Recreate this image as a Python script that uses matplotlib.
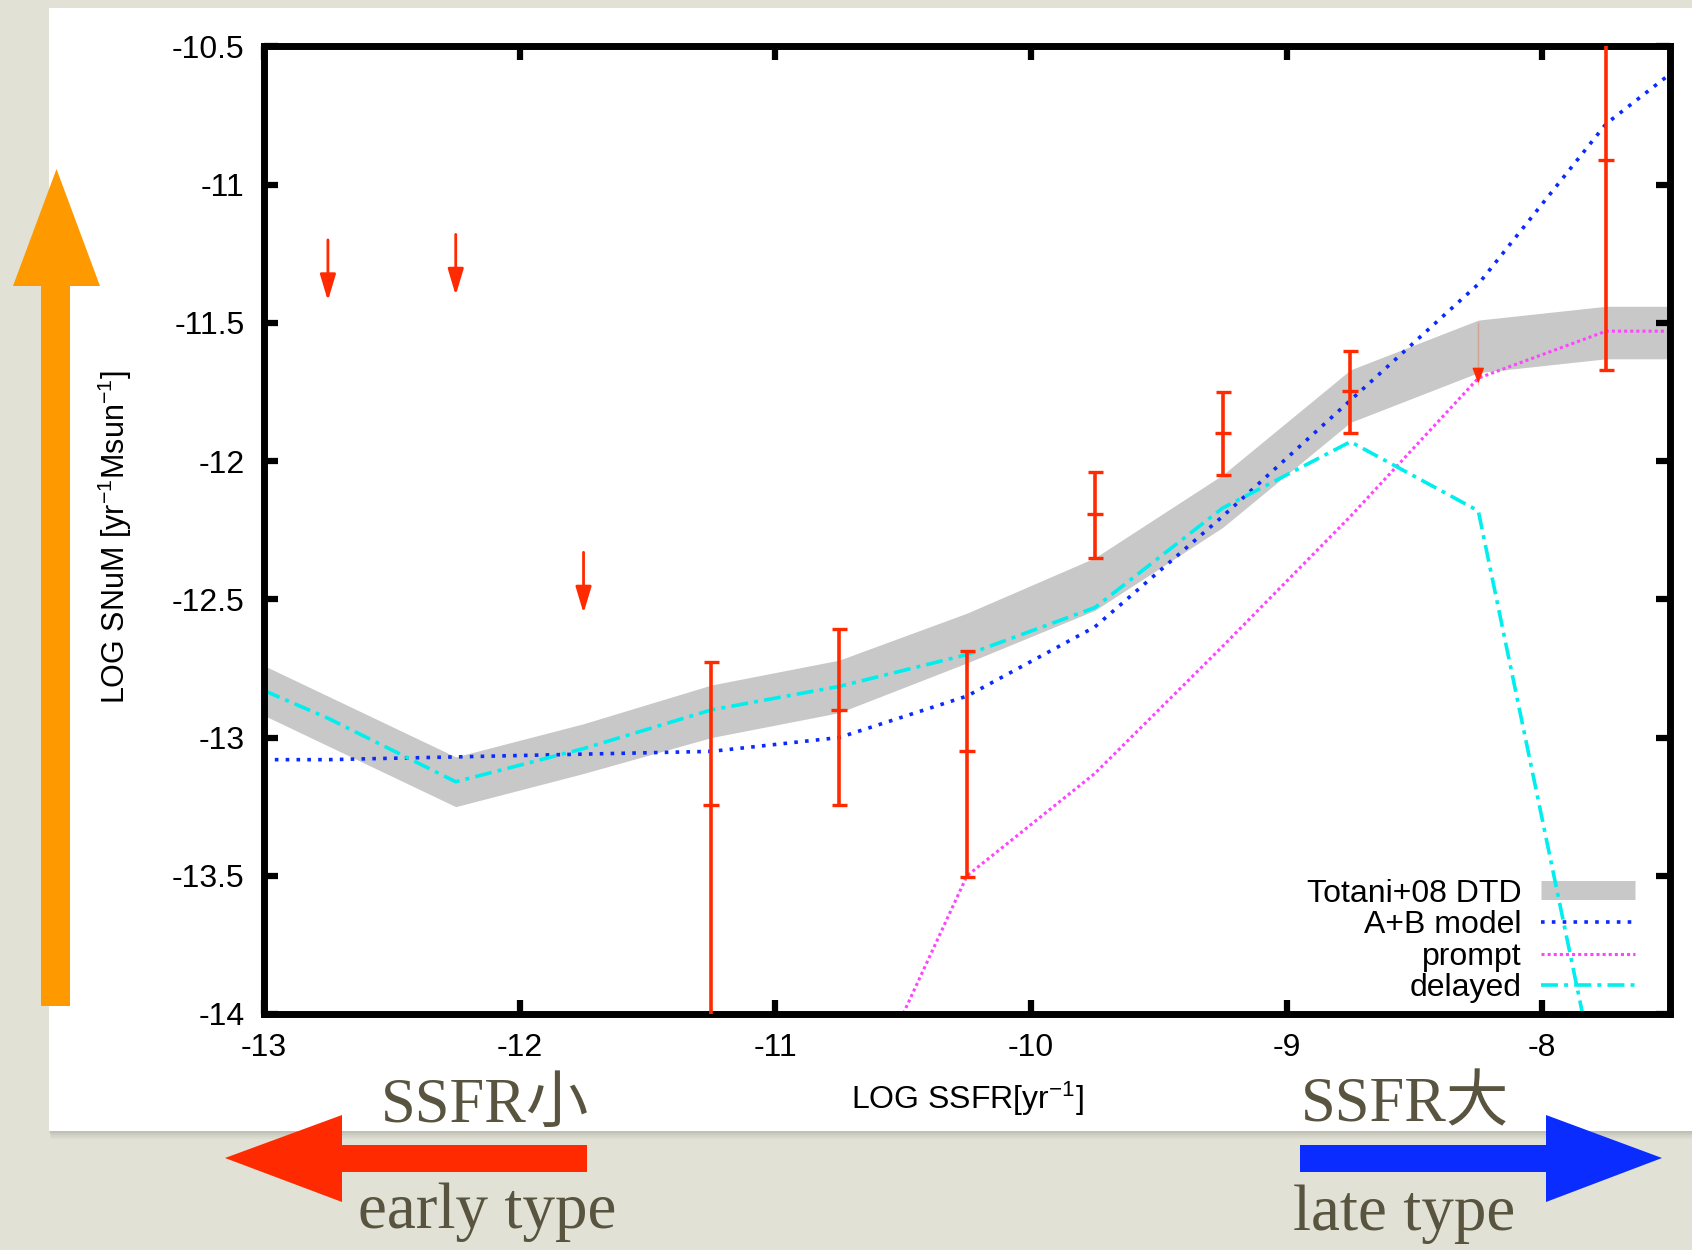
import numpy as np
import matplotlib
matplotlib.use("Agg")
import matplotlib.pyplot as plt
from matplotlib.lines import Line2D
from matplotlib.patches import Rectangle, Polygon

plt.rcParams['font.family'] = ['Liberation Sans', 'DejaVu Sans']
plt.rcParams['axes.unicode_minus'] = False
plt.rcParams['mathtext.fontset'] = 'custom'
plt.rcParams['mathtext.rm'] = 'Liberation Sans'
plt.rcParams['mathtext.it'] = 'Liberation Sans:italic'

# Model curves on the log sSFR grid
ssfr_grid = [-13.0, -12.75, -12.25, -11.75, -11.25, -10.75, -10.25, -9.75, -9.25, -8.75, -8.25, -7.75, -7.5]
totani_upper = [-12.74, -12.85, -13.07, -12.95, -12.81, -12.72, -12.55, -12.35, -12.05, -11.67, -11.49, -11.44, -11.44]
totani_lower = [-12.92, -13.03, -13.25, -13.13, -13.00, -12.91, -12.73, -12.54, -12.24, -11.86, -11.68, -11.63, -11.63]
ab_model = [-13.08, -13.08, -13.07, -13.06, -13.05, -13.00, -12.85, -12.60, -12.20, -11.78, -11.36, -10.78, -10.60]

delayed_x = [-13.0, -12.75, -12.25, -11.75, -11.25, -10.75, -10.25, -9.75, -9.25, -8.75, -8.25, -7.75]
delayed = [-12.83, -12.93, -13.16, -13.04, -12.90, -12.815, -12.70, -12.53, -12.17, -11.93, -12.18, -14.41]

prompt_x = [-10.75, -10.25, -9.75, -9.25, -8.75, -8.25, -7.75, -7.5]
prompt = [-14.5, -13.50, -13.13, -12.67, -12.20, -11.70, -11.53, -11.53]

# Observed rates with error ranges
obs_x = [-11.25, -10.75, -10.25, -9.75, -9.25, -8.75, -7.75]
obs_y = [-13.245, -12.90, -13.05, -12.19, -11.90, -11.745, -10.91]
obs_lo = [-14.3, -13.243, -13.504, -12.35, -12.05, -11.90, -11.67]
obs_hi = [-12.725, -12.607, -12.686, -12.04, -11.75, -11.60, -10.3]

# Upper limits
lim_x = [-12.75, -12.25, -11.75]
lim_y = [-11.42, -11.40, -12.55]
weak_lim_x = [-8.25]
weak_lim_top = [-11.50]
weak_lim_y = [-11.72]

xticks = [-13, -12, -11, -10, -9, -8]
yticks = [-14, -13.5, -13, -12.5, -12, -11.5, -11, -10.5]

bg = '#e2e1d6'
red = '#ff2a00'
gray = '#c8c8c8'
blue = '#0a2aff'
pink = '#ff44ff'
cyan = '#00eeee'
olive = '#58543f'

W, H = 1692, 1250
FS = 23


def fig_xy(x, y):
    return x / W, 1 - y / H


fig = plt.figure(figsize=(W / 100, H / 100), dpi=100)
fig.patch.set_facecolor(bg)

# white sheet with soft shadow
for off, a in [(8, 0.05), (6, 0.06), (4, 0.08), (2, 0.10)]:
    fig.add_artist(Rectangle(fig_xy(48.5 + off * 0.3, 1131 + off), (W - 48.5) / W, (1131 - 8) / H,
                             transform=fig.transFigure, fc='#6a6858', alpha=a, lw=0, zorder=-3))
fig.add_artist(Rectangle(fig_xy(48.5, 1131), (W - 48.5) / W, (1131 - 8) / H,
                         transform=fig.transFigure, fc='white', lw=0, zorder=-2))

ax = fig.add_axes([264 / W, 1 - 1014 / H, (1670 - 264) / W, (1014 - 46.4) / H])

ax.fill_between(ssfr_grid, totani_lower, totani_upper, color=gray, lw=0, zorder=1)
ax.plot(ssfr_grid, ab_model, color=blue, lw=2.6, ls=(0, (1.0, 2.0)), zorder=2)
ax.plot(prompt_x, prompt, color=pink, lw=2.2, ls=(0, (1.0, 1.0)), zorder=2)
ax.plot(delayed_x, delayed, color=cyan, lw=2.6, ls=(0, (4.7, 1.7, 1.1, 1.7)), zorder=2)

obs_y_arr = np.array(obs_y)
yerr = [obs_y_arr - np.array(obs_lo), np.array(obs_hi) - obs_y_arr]
ax.errorbar(obs_x, obs_y, yerr=yerr, fmt='_', color=red, ecolor=red, elinewidth=2.6,
            capsize=5.4, capthick=2.4, markersize=11, markeredgewidth=2.4, zorder=4)

for x, y in zip(lim_x, lim_y):
    ax.annotate('', xy=(x, y), xytext=(x, y + 0.22),
                arrowprops=dict(arrowstyle='-|>,head_length=0.8,head_width=0.24', color=red,
                                lw=2, shrinkA=0, shrinkB=0, mutation_scale=20), zorder=4)
for x, top, y in zip(weak_lim_x, weak_lim_top, weak_lim_y):
    ax.plot([x, x], [top, y], color=red, lw=1, alpha=0.25, zorder=3)
    ax.annotate('', xy=(x, y), xytext=(x, y + 0.04),
                arrowprops=dict(arrowstyle='-|>,head_length=0.8,head_width=0.3', color=red,
                                lw=1, shrinkA=0, shrinkB=0, mutation_scale=12), zorder=4)

ax.set_xlim(-13, -7.5)
ax.set_ylim(-14, -10.5)
ax.set_xticks(xticks)
ax.set_yticks(yticks)
ax.set_xticklabels(['%g' % t for t in xticks])
ax.set_yticklabels(['%g' % t for t in yticks])
ax.tick_params(direction='in', length=10, width=4.5, top=True, right=True, labelsize=FS)
ax.tick_params(axis='x', pad=14)
ax.tick_params(axis='y', pad=14)
for s in ax.spines.values():
    s.set_linewidth(5)

ax.set_xlabel('LOG SSFR[yr$^{-1}$]', fontsize=FS)
ax.xaxis.label.set_verticalalignment('baseline')
ax.xaxis.set_label_coords(0.5, (1014 - 1109.3) / 968)
ax.set_ylabel('LOG SNuM [yr$^{-1}$Msun$^{-1}$]', fontsize=22)
ax.yaxis.label.set_verticalalignment('center')
ax.yaxis.set_label_coords((114.5 - 264) / 1406, (1014 - 536.7) / 968)

handles = [
    Line2D([], [], color=gray, lw=13.7, solid_capstyle='butt'),
    Line2D([], [], color=blue, lw=2.6, ls=(0, (1.0, 2.0))),
    Line2D([], [], color=pink, lw=2.2, ls=(0, (1.0, 1.0))),
    Line2D([], [], color=cyan, lw=2.6, ls=(0, (4.7, 1.7, 1.1, 1.7))),
]
labels = ['Totani+08 DTD', 'A+B model', 'prompt', 'delayed']
leg = ax.legend(handles, labels, loc='lower right', bbox_to_anchor=(0.975, 0.011), frameon=False,
                markerfirst=False, fontsize=FS, handlelength=2.94, handletextpad=0.6,
                labelspacing=0.05, borderpad=0, borderaxespad=0)
leg.set_zorder(1.5)

# direction arrows around the plot
orange_arrow = [(56.5, 169), (100, 286), (70, 286), (70, 1006), (41, 1006), (41, 286), (13, 286)]
left_arrow = [(225, 1158), (342, 1115), (342, 1145), (587, 1145), (587, 1172), (342, 1172), (342, 1202)]
right_arrow = [(1300, 1145), (1546, 1145), (1546, 1115), (1662, 1158), (1546, 1202), (1546, 1172), (1300, 1172)]
for pts, c in [(orange_arrow, '#ff9900'), (left_arrow, red), (right_arrow, '#0b2cff')]:
    fig.add_artist(Polygon([fig_xy(*p) for p in pts], closed=True, transform=fig.transFigure,
                           fc=c, ec='none', zorder=5))

serif = ['Liberation Serif', 'Noto Sans CJK JP']
fig.text(*fig_xy(485, 1121.7), 'SSFR小', family=serif, fontsize=45, color=olive, ha='center', va='baseline')
fig.text(*fig_xy(1405, 1121.7), 'SSFR大', family=serif, fontsize=45, color=olive, ha='center', va='baseline')
fig.text(*fig_xy(487, 1228), 'early type', family=serif, fontsize=47, color=olive, ha='center', va='baseline')
fig.text(*fig_xy(1404, 1230), 'late type', family=serif, fontsize=47, color=olive, ha='center', va='baseline')

fig.savefig('out.png', dpi=100, facecolor=fig.get_facecolor())
